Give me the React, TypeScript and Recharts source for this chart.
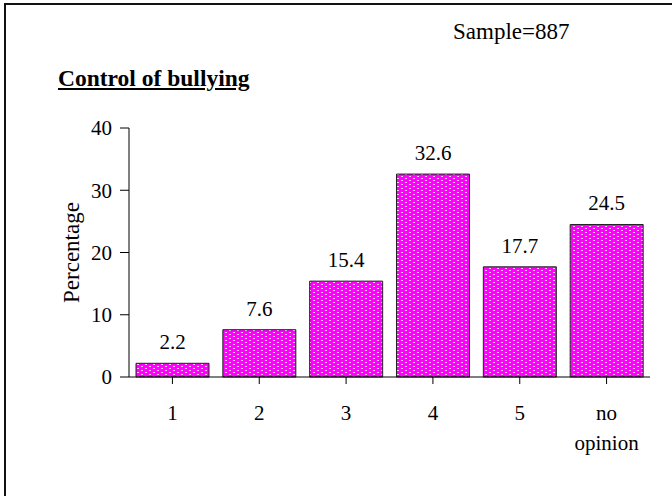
import { Bar, BarChart, LabelList, XAxis, YAxis } from 'recharts'

const categories = ['1', '2', '3', '4', '5', 'no opinion']
const percentages = [2.2, 7.6, 15.4, 32.6, 17.7, 24.5]
const yTicks = [0, 10, 20, 30, 40]

const data = categories.map((category, i) => ({ category, value: percentages[i] }))

const serif = '"Liberation Serif", "Times New Roman", serif'

function CategoryTick(props: any) {
  const { x, y, payload } = props
  const words = String(payload.value).split(' ')
  return (
    <text x={x} y={y} textAnchor="middle" fontFamily={serif} fontSize={21} fill="#000">
      {words.map((w, i) => (
        <tspan key={w} x={x} dy={i === 0 ? 34 : 30}>
          {w}
        </tspan>
      ))}
    </text>
  )
}

export default function App() {
  return (
    <div
      style={{
        position: 'fixed',
        top: 0,
        left: 0,
        width: 672,
        height: 496,
        background: '#fff',
        fontFamily: serif,
      }}
    >
      {/* frame lines */}
      <div style={{ position: 'absolute', top: 3, left: 4, right: 0, height: 2, background: '#111' }} />
      <div style={{ position: 'absolute', top: 3, left: 4, bottom: 0, width: 2, background: '#111' }} />

      <div style={{ position: 'absolute', left: 453, top: 19, fontFamily: serif, fontSize: 23 }}>
        Sample=887
      </div>
      <div
        style={{
          position: 'absolute',
          left: 58,
          top: 65,
          fontFamily: serif,
          fontSize: 23.5,
          fontWeight: 'bold',
          textDecoration: 'underline',
        }}
      >
        Control of bullying
      </div>

      <BarChart
        width={672}
        height={496}
        data={data}
        margin={{ top: 128, right: 22, left: 89, bottom: 59 }}
        barSize={73}
        style={{ fontFamily: serif }}
      >
        <defs>
          <pattern id="dots" width="8" height="4" patternUnits="userSpaceOnUse">
            <rect width="8" height="4" fill="#ff00ff" />
            <rect x="1" y="0" width="2" height="1" fill="#ffd0ff" />
            <rect x="5" y="2" width="2" height="1" fill="#ffd0ff" />
          </pattern>
        </defs>
        <XAxis
          dataKey="category"
          stroke="#000"
          tickSize={7}
          tickLine
          interval={0}
          height={60}
          tick={<CategoryTick />}
          scale="band"
        />
        <YAxis
          domain={[0, 40]}
          ticks={yTicks}
          width={40}
          stroke="#000"
          tickSize={9}
          tickMargin={8}
          tick={{ fontFamily: serif, fontSize: 21, fill: '#000' }}
          label={{
            value: 'Percentage',
            angle: -90,
            position: 'insideLeft',
            dx: -23,
            style: { fontFamily: serif, fontSize: 23, fill: '#000', textAnchor: 'middle' },
          }}
        />
        <Bar dataKey="value" fill="url(#dots)" stroke="#222" strokeWidth={1} isAnimationActive={false}>
          <LabelList
            dataKey="value"
            position="top"
            offset={14}
            fontFamily={serif}
            fontSize={21}
            fill="#000"
          />
        </Bar>
      </BarChart>
    </div>
  )
}
